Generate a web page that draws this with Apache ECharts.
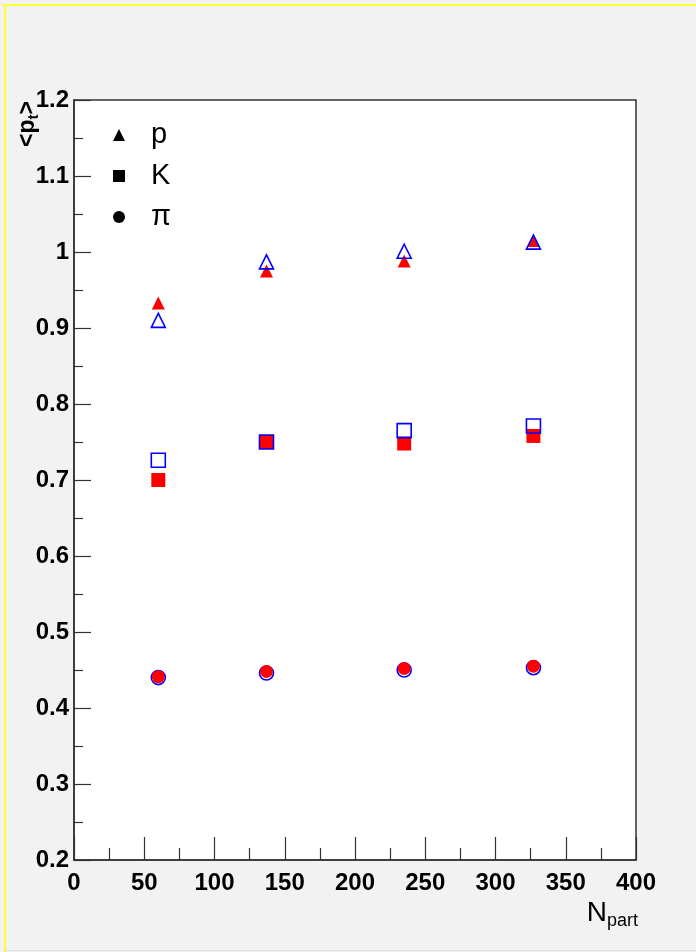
<!DOCTYPE html>
<html>
<head>
<meta charset="utf-8">
<script src="https://cdn.jsdelivr.net/npm/echarts@6/dist/echarts.min.js"></script>
<style>
html,body{margin:0;padding:0;background:#f2f2f2;}
#c{width:696px;height:952px;}
</style>
</head>
<body>
<div id="c"></div>
<script>
// Data
const npart = [60, 137, 235, 327];
const pRed = [0.933, 0.975, 0.988, 1.015];
const pBlue = [0.910, 0.987, 1.001, 1.013];
const kRed = [0.700, 0.750, 0.748, 0.758];
const kBlue = [0.726, 0.750, 0.765, 0.771];
const piRed = [0.441, 0.448, 0.452, 0.455];
const piBlue = [0.440, 0.446, 0.450, 0.453];
const xTicks = [0, 50, 100, 150, 200, 250, 300, 350, 400];
const yTicks = [0.2, 0.3, 0.4, 0.5, 0.6, 0.7, 0.8, 0.9, 1.0, 1.1, 1.2];
const legendNames = ['p', 'K', 'π'];

const pairs = ys => npart.map((x, i) => [x, ys[i]]);
const chart = echarts.init(document.getElementById('c'), null, {renderer: 'canvas'});
const tickFont = {fontFamily: 'Liberation Sans, Arial, sans-serif', fontWeight: 'bold', fontSize: 24, color: '#000'};
const axisCol = '#333';

function filled(name, sym, size, ys, z) {
  return {type: 'scatter', name: name, symbol: sym, symbolSize: size, data: pairs(ys), z: z,
    itemStyle: {color: '#ff0000', opacity: 1}, emphasis: {disabled: true}};
}
function hollow(name, sym, size, ys, z) {
  return {type: 'scatter', name: name, symbol: sym, symbolSize: size, data: pairs(ys), z: z,
    itemStyle: {color: 'rgba(0,0,0,0)', borderColor: '#0000ff', borderWidth: 1.6, opacity: 1}, emphasis: {disabled: true}};
}

chart.setOption({
  backgroundColor: '#f2f2f2',
  animation: false,
  grid: {left: 74, top: 100, right: 60, bottom: 92, show: true, backgroundColor: '#ffffff', borderColor: axisCol, borderWidth: 1.5},
  xAxis: {
    type: 'value', min: xTicks[0], max: xTicks[xTicks.length - 1], interval: 50,
    axisLine: {show: true, lineStyle: {color: axisCol, width: 1.5}},
    axisTick: {show: true, inside: true, length: 23, lineStyle: {color: axisCol, width: 1.2}},
    minorTick: {show: true, splitNumber: 2, length: 12, lineStyle: {color: axisCol, width: 1.2}},
    splitLine: {show: false},
    axisLabel: Object.assign({margin: 11, showMinLabel: true, showMaxLabel: true}, tickFont)
  },
  yAxis: {
    type: 'value', min: yTicks[0], max: yTicks[yTicks.length - 1], interval: 0.1,
    axisLine: {show: true, lineStyle: {color: axisCol, width: 1.5}},
    axisTick: {show: true, inside: true, length: 17, lineStyle: {color: axisCol, width: 1.2}},
    minorTick: {show: true, splitNumber: 2, length: 9, lineStyle: {color: axisCol, width: 1.2}},
    splitLine: {show: false},
    axisLabel: Object.assign({margin: 5, showMinLabel: true, showMaxLabel: true,
      formatter: v => String(parseFloat(v.toFixed(2)))}, tickFont)
  },
  legend: {
    show: true, orient: 'vertical', left: 108, top: 115, itemWidth: 12, itemHeight: 12, itemGap: 11,
    selectedMode: false,
    textStyle: {fontFamily: 'Liberation Sans, Arial, sans-serif', fontSize: 29, color: '#000', padding: [0, 0, 0, 21], lineHeight: 30},
    data: [
      {name: legendNames[0], icon: 'triangle', itemStyle: {color: '#000', borderWidth: 0}},
      {name: legendNames[1], icon: 'rect', itemStyle: {color: '#000', borderWidth: 0}},
      {name: legendNames[2], icon: 'circle', itemStyle: {color: '#000', borderWidth: 0}}
    ]
  },
  graphic: [
    {type: 'line', shape: {x1: 3, y1: 5, x2: 696, y2: 5}, style: {stroke: '#ffff33', lineWidth: 2}, z: 100},
    {type: 'line', shape: {x1: 5, y1: 4, x2: 5, y2: 952}, style: {stroke: '#ffff33', lineWidth: 2}, z: 100},
    {type: 'line', shape: {x1: 5, y1: 950.5, x2: 696, y2: 950.5}, style: {stroke: '#dcdcdc', lineWidth: 1}, z: 100},
    {type: 'text', x: 14, y: 147, rotation: Math.PI / 2, z: 100,
      style: {text: '<p{s|t}>', fontFamily: 'Liberation Sans, Arial, sans-serif', fontWeight: 'bold', fontSize: 23, fill: '#000',
        rich: {s: {fontFamily: 'Liberation Sans, Arial, sans-serif', fontWeight: 'bold', fontSize: 15, fill: '#000', padding: [12, 0, 0, 0]}}}},
    {type: 'text', x: 638, y: 897, z: 100,
      style: {text: 'N{s|part}', align: 'right', fontFamily: 'Liberation Sans, Arial, sans-serif', fontSize: 28, fill: '#000',
        rich: {s: {fontFamily: 'Liberation Sans, Arial, sans-serif', fontSize: 18, fill: '#000', padding: [15, 0, 0, 0]}}}}
  ],
  series: [
    filled(legendNames[0], 'triangle', 13, pRed, 3),
    hollow('p_open', 'triangle', 14, pBlue, 4),
    filled(legendNames[1], 'rect', 14, kRed, 3),
    hollow('K_open', 'rect', 14, kBlue, 4),
    hollow('pi_open', 'circle', 14, piBlue, 3),
    filled(legendNames[2], 'circle', 13, piRed, 4)
  ]
});
</script>
</body>
</html>
